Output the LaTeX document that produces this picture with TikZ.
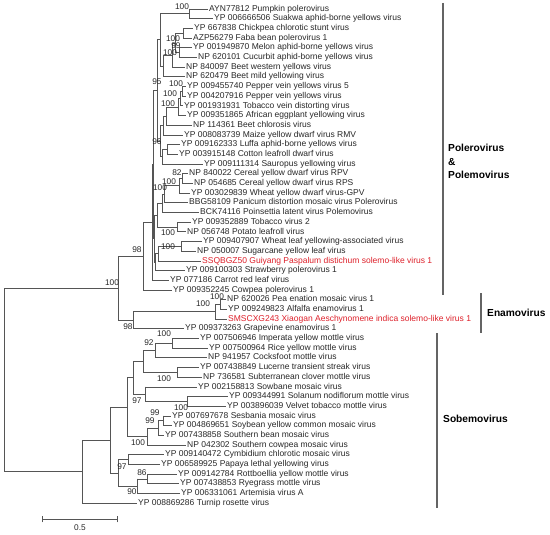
\documentclass[tikz,border=0pt]{standalone}
\usepackage{fontspec}
\setmainfont{Liberation Sans}
\usetikzlibrary{calc}
\definecolor{brc}{RGB}{85,85,85}
\definecolor{txt}{RGB}{40,40,40}
\definecolor{hl}{RGB}{222,32,42}
\definecolor{barc}{RGB}{100,100,100}
\tikzset{
 branch/.style={draw=brc, line width=0.8pt, line cap=rect},
 leaftxt/.style={anchor=west, inner sep=0pt, xshift=1.5pt, font=\fontsize{8.5}{10}\selectfont, text=txt, text height=6pt, text depth=1.7pt},
 redtxt/.style={text=hl},
 boot/.style={inner sep=0pt, font=\fontsize{8.3}{10}\selectfont, text=txt},
 cladetxt/.style={anchor=west, inner sep=0pt, font=\fontsize{10.2}{12}\selectfont\bfseries, text=black},
 groupbar/.style={draw=barc, line width=1.1pt},
}
\newcommand\mkclade[4]{%
 \coordinate (#1m) at ($(#3)!0.5!(#4)$);
 \coordinate (#1x) at (#2,0);
 \coordinate (#1) at (#1x |- #1m);
 \draw[branch] (#1x |- #3) -- (#1x |- #4);
 \draw[branch] (#1x |- #3) -- (#3);
 \draw[branch] (#1x |- #4) -- (#4);
}
\newcommand\lv[5][]{\coordinate (#2) at ({#4-1.5},{9+9.69*#3}); \node[leaftxt,#1] (#2t) at (#2) {#5};}
\begin{document}
\begin{tikzpicture}[x=1pt,y=-1pt]
\fill[white] (0,0) rectangle (550,535);
\useasboundingbox (0,0) rectangle (550,535);
% leaves
\lv{l0}{0}{209}{AYN77812 Pumpkin polerovirus}
\lv{l1}{1}{214}{YP 006666506 Suakwa aphid-borne yellows virus}
\lv{l2}{2}{194}{YP 667838 Chickpea chlorotic stunt virus}
\lv{l3}{3}{193}{AZP56279 Faba bean polerovirus 1}
\lv{l4}{4}{193}{YP 001949870 Melon aphid-borne yellows virus}
\lv{l5}{5}{198}{NP 620101 Cucurbit aphid-borne yellows virus}
\lv{l6}{6}{186}{NP 840097 Beet western yellows virus}
\lv{l7}{7}{186}{NP 620479 Beet mild yellowing virus}
\lv{l8}{8}{187}{YP 009455740 Pepper vein yellows virus 5}
\lv{l9}{9}{187}{YP 004207916 Pepper vein yellows virus}
\lv{l10}{10}{184}{YP 001931931 Tobacco vein distorting virus}
\lv{l11}{11}{187}{YP 009351865 African eggplant yellowing virus}
\lv{l12}{12}{193}{NP 114361 Beet chlorosis virus}
\lv{l13}{13}{184}{YP 008083739 Maize yellow dwarf virus RMV}
\lv{l14}{14}{181}{YP 009162333 Luffa aphid-borne yellows virus}
\lv{l15}{15}{179}{YP 003915148 Cotton leafroll dwarf virus}
\lv{l16}{16}{204}{YP 009111314 Sauropus yellowing virus}
\lv{l17}{17}{189}{NP 840022 Cereal yellow dwarf virus RPV}
\lv{l18}{18}{194}{NP 054685 Cereal yellow dwarf virus RPS}
\lv{l19}{19}{191}{YP 003029839 Wheat yellow dwarf virus-GPV}
\lv{l20}{20}{189}{BBG58109 Panicum distortion mosaic virus Polerovirus}
\lv{l21}{21}{200}{BCK74116 Poinsettia latent virus Polemovirus}
\lv{l22}{22}{192}{YP 009352889 Tobacco virus 2}
\lv{l23}{23}{187}{NP 056748 Potato leafroll virus}
\lv{l24}{24}{203}{YP 009407907 Wheat leaf yellowing-associated virus}
\lv{l25}{25}{197}{NP 050007 Sugarcane yellow leaf virus}
\lv[redtxt]{l26}{26}{202}{SSQBGZ50 Guiyang Paspalum distichum solemo-like virus 1}
\lv{l27}{27}{186}{YP 009100303 Strawberry polerovirus 1}
\lv{l28}{28}{170}{YP 077186 Carrot red leaf virus}
\lv{l29}{29}{173}{YP 009352245 Cowpea polerovirus 1}
\lv{l30}{30}{227}{NP 620026 Pea enation mosaic virus 1}
\lv{l31}{31}{228}{YP 009249823 Alfalfa enamovirus 1}
\lv[redtxt]{l32}{32}{228}{SMSCXG243 Xiaogan Aeschynomene indica solemo-like virus 1}
\lv{l33}{33}{185}{YP 009373263 Grapevine enamovirus 1}
\lv{l34}{34}{200}{YP 007506946 Imperata yellow mottle virus}
\lv{l35}{35}{209}{YP 007500964 Rice yellow mottle virus}
\lv{l36}{36}{208}{NP 941957 Cocksfoot mottle virus}
\lv{l37}{37}{200}{YP 007438849 Lucerne transient streak virus}
\lv{l38}{38}{203}{NP 736581 Subterranean clover mottle virus}
\lv{l39}{39}{198}{YP 002158813 Sowbane mosaic virus}
\lv{l40}{40}{229}{YP 009344991 Solanum nodiflorum mottle virus}
\lv{l41}{41}{227}{YP 003896039 Velvet tobacco mottle virus}
\lv{l42}{42}{172}{YP 007697678 Sesbania mosaic virus}
\lv{l43}{43}{173}{YP 004869651 Soybean yellow common mosaic virus}
\lv{l44}{44}{165}{YP 007438858 Southern bean mosaic virus}
\lv{l45}{45}{187}{NP 042302 Southern cowpea mosaic virus}
\lv{l46}{46}{165}{YP 009140472 Cymbidium chlorotic mosaic virus}
\lv{l47}{47}{161}{YP 006589925 Papaya lethal yellowing virus}
\lv{l48}{48}{178}{YP 009142784 Rottboellia yellow mottle virus}
\lv{l49}{49}{180}{YP 007438853 Ryegrass mottle virus}
\lv{l50}{50}{181}{YP 006331061 Artemisia virus A}
\lv{l51}{51}{138}{YP 008869286 Turnip rosette virus}
% clades
\mkclade{T1}{189}{l0}{l1}
\mkclade{T2}{183}{l2}{l3}
\mkclade{T3}{179}{l4}{l5}
\mkclade{T4}{175}{T2}{T3}
\mkclade{T5}{172}{T4}{l6}
\mkclade{T6}{163}{T5}{l7}
\mkclade{T7}{160}{T1}{T6}
\mkclade{P1}{182}{l8}{l9}
\mkclade{P2}{180}{P1}{l10}
\mkclade{P3}{178}{P2}{l11}
\mkclade{P4}{166}{P3}{l12}
\mkclade{P5}{163}{P4}{l13}
\mkclade{L1}{167}{l14}{l15}
\mkclade{L2}{162}{L1}{l16}
\mkclade{P6}{160}{P5}{L2}
\mkclade{T8}{157}{T7}{P6}
\mkclade{C1}{182}{l17}{l18}
\mkclade{C2}{179}{C1}{l19}
\mkclade{C3}{164}{C2}{l20}
\mkclade{C4}{162}{C3}{l21}
\mkclade{Tb}{177}{l22}{l23}
\mkclade{C5}{157}{C4}{Tb}
\mkclade{W1}{181}{l24}{l25}
\mkclade{W2}{158}{W1}{l26}
\mkclade{W3}{155.5}{W2}{l27}
\mkclade{C6}{154.5}{C5}{W3}
\mkclade{T9}{153.5}{T8}{C6}
\mkclade{N2}{152}{T9}{l28}
\mkclade{N1}{143}{N2}{l29}
\mkclade{E2}{220}{l30}{l31}
\mkclade{E1}{215}{E2}{l32}
\mkclade{E0}{133}{E1}{l33}
\mkclade{PP}{118}{N1}{E0}
\mkclade{S1}{172}{l34}{l35}
\mkclade{S2}{155}{S1}{l36}
\mkclade{S4}{177}{l37}{l38}
\mkclade{S3}{143}{S2}{S4}
\mkclade{SV}{187}{l40}{l41}
\mkclade{S5}{145}{l39}{SV}
\mkclade{S6}{133}{S3}{S5}
\mkclade{SSa}{163}{l42}{l43}
\mkclade{SSb}{158}{SSa}{l44}
\mkclade{SSc}{147}{SSb}{l45}
\mkclade{S7}{127}{S6}{SSc}
\mkclade{CP}{128}{l46}{l47}
\mkclade{R1}{147}{l48}{l49}
\mkclade{R2}{137}{R1}{l50}
\mkclade{Q}{118}{CP}{R2}
\mkclade{S8}{110}{S7}{Q}
\mkclade{S0}{82}{S8}{l51}
\mkclade{RT}{4}{PP}{S0}
% bootstrap values
\node[boot] (b1) at (182,7) {100};
\node[boot] (b2) at (173,39) {100};
\node[boot] (b3) at (176,46) {99};
\node[boot] (b4) at (170,53) {100};
\node[boot] (b5) at (157,82) {95};
\node[boot] (b6) at (176,84) {100};
\node[boot] (b7) at (170,94) {100};
\node[boot] (b8) at (168,104) {100};
\node[boot] (b9) at (157,142) {96};
\node[boot] (b10) at (177,173) {82};
\node[boot] (b11) at (169,182) {100};
\node[boot] (b12) at (160,188) {100};
\node[boot] (b13) at (168,233) {100};
\node[boot] (b14) at (168,247) {100};
\node[boot] (b15) at (137,250) {98};
\node[boot] (b16) at (112,283) {100};
\node[boot] (b17) at (217,297) {100};
\node[boot] (b18) at (203,304) {100};
\node[boot] (b19) at (128,327) {98};
\node[boot] (b20) at (164,334) {100};
\node[boot] (b21) at (149,343) {92};
\node[boot] (b22) at (164,379) {100};
\node[boot] (b23) at (137,401) {97};
\node[boot] (b24) at (181,408) {100};
\node[boot] (b25) at (155,413) {99};
\node[boot] (b26) at (150,421) {99};
\node[boot] (b27) at (138,443) {100};
\node[boot] (b28) at (122,467) {97};
\node[boot] (b29) at (142,473) {86};
\node[boot] (b30) at (132,492) {90};
% group bars and names
\coordinate (ga1) at (443,3); \coordinate (ga2) at (443,295);
\draw[groupbar] (ga1) -- (ga2);
\node[cladetxt] (gat1) at (448,148) {Polerovirus};
\node[cladetxt] (gat2) at (448,162) {\&};
\node[cladetxt] (gat3) at (448,175) {Polemovirus};
\coordinate (gb1) at (481,293); \coordinate (gb2) at (481,333);
\draw[groupbar] (gb1) -- (gb2);
\node[cladetxt] (gbt) at (487,313) {Enamovirus};
\coordinate (gc1) at (437,333); \coordinate (gc2) at (437,508);
\draw[groupbar] (gc1) -- (gc2);
\node[cladetxt] (gct) at (443,419) {Sobemovirus};
% scale bar
\coordinate (sb1) at (42,519); \coordinate (sb2) at (117,519);
\draw[branch] (sb1) -- (sb2);
\draw[branch] ($(sb1)+(0,-3)$) -- ($(sb1)+(0,3)$);
\draw[branch] ($(sb2)+(0,-3)$) -- ($(sb2)+(0,3)$);
\node[boot] (sbt) at (80,528) {0.5};
\end{tikzpicture}
\end{document}
